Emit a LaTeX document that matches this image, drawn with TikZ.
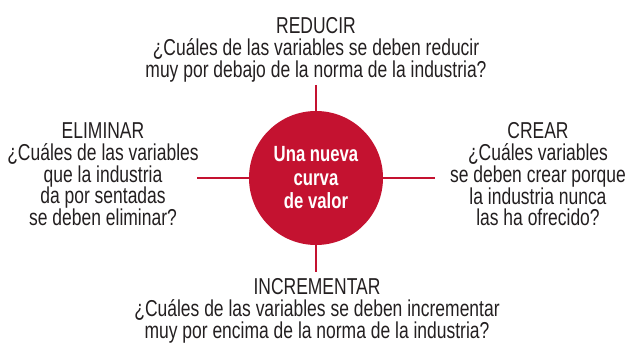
\documentclass[tikz,border=0pt]{standalone}
\usepackage{fontspec}
\setmainfont{Liberation Sans}[FakeStretch=0.76]
\definecolor{crimson}{RGB}{196,18,48}
\definecolor{ink}{RGB}{35,31,32}
\tikzset{
  label text/.style={align=center, inner sep=0pt, anchor=north, text=ink,
    font=\fontsize{23pt}{21.8pt}\selectfont},
  hub/.style={circle, fill=crimson, minimum size=134pt, inner sep=0pt,
    text=white, align=center, font=\fontsize{22pt}{23.5pt}\selectfont\bfseries},
  spoke/.style={draw=crimson, line width=2.5pt}
}
\begin{document}
\begin{tikzpicture}[x=1pt,y=-1pt]
\useasboundingbox (0,0) rectangle (627,347);
\node[hub] (c) at (316,178) {Una nueva\\curva\\de valor};
\coordinate (t) at (316,85);
\coordinate (b) at (316,272);
\coordinate (l) at (197,178);
\coordinate (r) at (435,178);
\draw[spoke] (t) -- (c.north);
\draw[spoke] (c.south) -- (b);
\draw[spoke] (l) -- (c.west);
\draw[spoke] (c.east) -- (r);
\node[label text] (reducir) at (316,17.5) {REDUCIR\\¿Cuáles de las variables se deben reducir\\muy por debajo de la norma de la industria?};
\node[label text] (eliminar) at (103,122.5) {ELIMINAR\\¿Cuáles de las variables\\que la industria\\da por sentadas\\se deben eliminar?};
\node[label text] (crear) at (538,122.5) {CREAR\\¿Cuáles variables\\se deben crear porque\\la industria nunca\\las ha ofrecido?};
\node[label text] (incrementar) at (317,278.5) {INCREMENTAR\\¿Cuáles de las variables se deben incrementar\\muy por encima de la norma de la industria?};
\end{tikzpicture}
\end{document}
